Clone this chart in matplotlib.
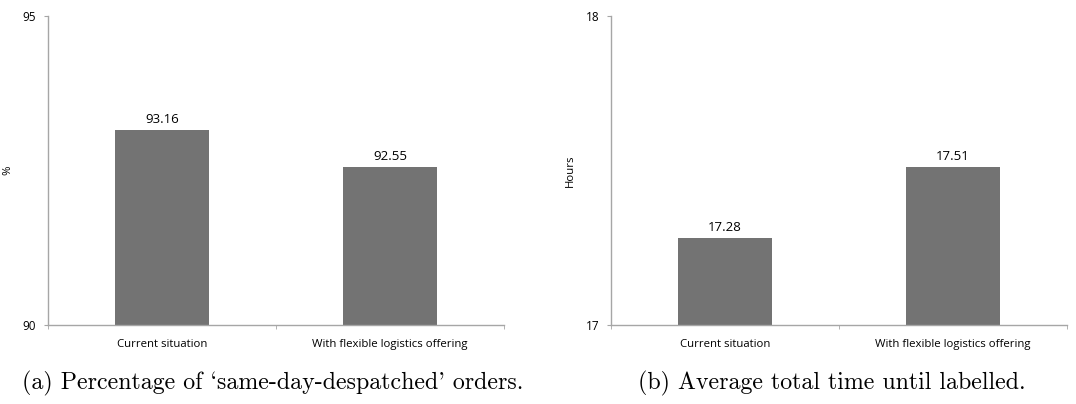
import matplotlib.pyplot as plt

# data
categories = ['Current situation', 'With flexible logistics offering']
pct_same_day = [93.16, 92.55]
hours_to_label = [17.28, 17.51]

pct_ylim = (90, 95)
hours_ylim = (17, 18)

captions = ["(a) Percentage of `same-day-despatched' orders.",
            "(b) Average total time until labelled."]

BAR = '#737373'
SPINE = '#a6a6a6'
SANS = ['Open Sans', 'DejaVu Sans']

fig = plt.figure(figsize=(10.76, 4.04), dpi=100)
ax1 = fig.add_axes([0.0446, 0.1955, 0.4238, 0.7649])
ax2 = fig.add_axes([0.5678, 0.1955, 0.4238, 0.7649])


def draw(ax, vals, ylim, ylabel):
    x = range(len(vals))
    bars = ax.bar(x, vals, width=0.41, color=BAR, zorder=2)
    ax.set_xlim(-0.5, len(vals) - 0.5)
    ax.set_ylim(*ylim)
    ax.set_yticks(list(ylim))
    ax.set_yticklabels([str(v) for v in ylim], family=SANS, fontsize=8.5)
    ax.set_xticks(list(x))
    ax.set_xticklabels(categories, family=SANS, fontsize=8.2)
    ax.set_xticks([-0.5, 0.5, 1.5], minor=True)
    ax.tick_params(axis='x', which='major', length=0, pad=10)
    ax.tick_params(axis='x', which='minor', length=3, color=SPINE, direction='out')
    ax.tick_params(axis='y', length=3, color=SPINE, pad=5.5)
    for s in ['top', 'right']:
        ax.spines[s].set_visible(False)
    for s in ['left', 'bottom']:
        ax.spines[s].set_color(SPINE)
        ax.spines[s].set_linewidth(1.0)
    ax.set_ylabel(ylabel, family=SANS, fontsize=8.2)
    ax.yaxis.set_label_coords(-0.077, 0.5)
    for b, v in zip(bars, vals):
        ax.annotate(f'{v:.2f}', (b.get_x() + b.get_width() / 2, v),
                    xytext=(0, 3), textcoords='offset points',
                    ha='center', va='bottom', family=SANS, fontsize=9.5)


draw(ax1, pct_same_day, pct_ylim, '%')
draw(ax2, hours_to_label, hours_ylim, 'Hours')

# captions (subfigure style)
fig.text(0.0205, 0.05, captions[0], ha='left', va='center',
         family=['cmr10', 'DejaVu Serif'], fontsize=17.2)
fig.text(0.5925, 0.05, captions[1], ha='left', va='center',
         family=['cmr10', 'DejaVu Serif'], fontsize=17.2)

fig.savefig('out.png', dpi=100)
